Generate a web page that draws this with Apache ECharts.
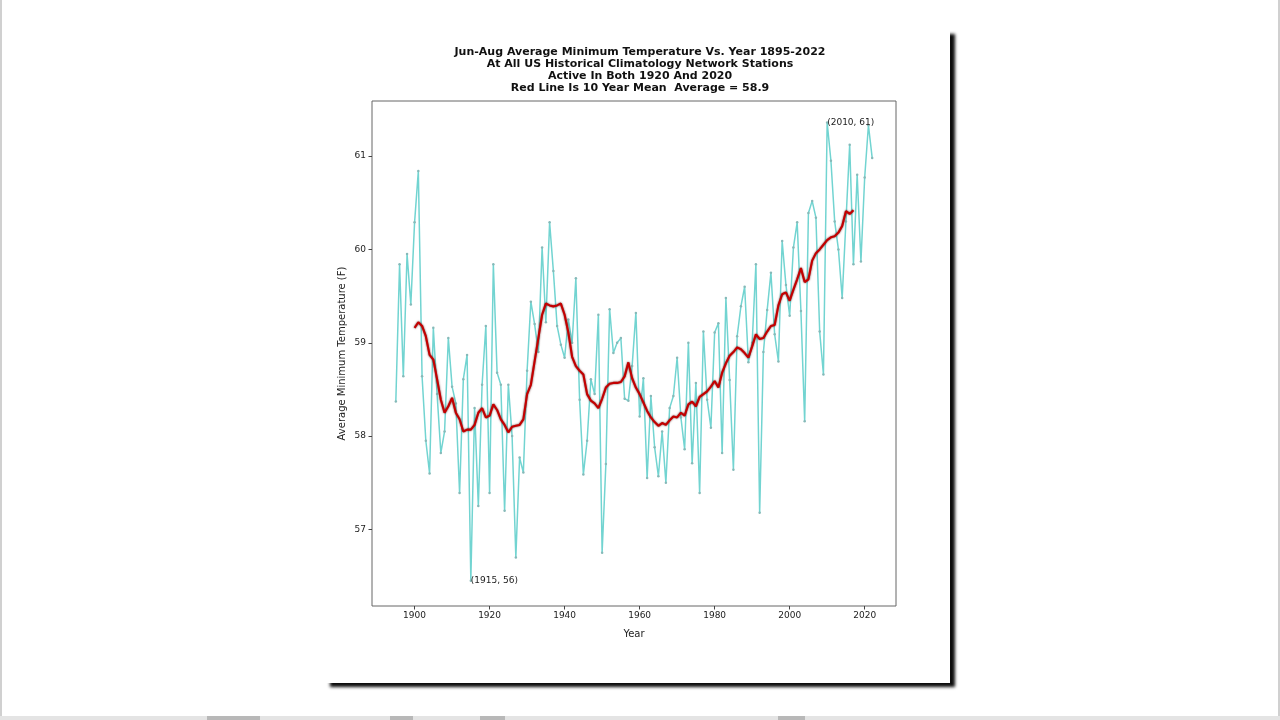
<!DOCTYPE html>
<html>
<head>
<meta charset="utf-8">
<script src="https://cdn.jsdelivr.net/npm/echarts@6/dist/echarts.min.js"></script>
<style>
  html, body { margin: 0; padding: 0; background: #fff; }
  #page { position: relative; width: 1280px; height: 720px; overflow: hidden; background: #fff; }
  #frameL { position: absolute; left: 0; top: 0; width: 2px; height: 720px; background: #d0d0d0; }
  #frameR { position: absolute; right: 0; top: 0; width: 2px; height: 720px; background: #d0d0d0; }
  #frameB { position: absolute; left: 0; top: 716px; width: 1280px; height: 4px; background: #e4e4e4; }
  .thumb { position: absolute; top: 716px; height: 4px; background: #b8b8b8; }
  #card { position: absolute; left: 325px; top: 30px; width: 625px; height: 653px; background: #fff;
          box-shadow: 5px 4px 3px rgba(0,0,0,0.95); }
  #chart { position: absolute; left: 0; top: 0; width: 1280px; height: 720px; }
</style>
</head>
<body>
<div id="page">
  <div id="frameL"></div><div id="frameR"></div><div id="frameB"></div>
  <div class="thumb" style="left:207px;width:53px"></div>
  <div class="thumb" style="left:390px;width:23px"></div>
  <div class="thumb" style="left:480px;width:25px"></div>
  <div class="thumb" style="left:778px;width:27px"></div>
  <div id="card"></div>
  <div id="chart"></div>
</div>
<script>
// ---- data ----
const years = [1895,1896,1897,1898,1899,1900,1901,1902,1903,1904,1905,1906,1907,1908,1909,1910,1911,1912,1913,1914,
  1915,1916,1917,1918,1919,1920,1921,1922,1923,1924,1925,1926,1927,1928,1929,1930,1931,1932,1933,1934,
  1935,1936,1937,1938,1939,1940,1941,1942,1943,1944,1945,1946,1947,1948,1949,1950,1951,1952,1953,1954,
  1955,1956,1957,1958,1959,1960,1961,1962,1963,1964,1965,1966,1967,1968,1969,1970,1971,1972,1973,1974,
  1975,1976,1977,1978,1979,1980,1981,1982,1983,1984,1985,1986,1987,1988,1989,1990,1991,1992,1993,1994,
  1995,1996,1997,1998,1999,2000,2001,2002,2003,2004,2005,2006,2007,2008,2009,2010,2011,2012,2013,2014,
  2015,2016,2017,2018,2019,2020,2021,2022];
const tempMin = [58.37,59.84,58.64,59.95,59.41,60.29,60.84,58.64,57.95,57.60,59.16,58.45,57.82,58.05,59.05,58.53,58.35,57.39,58.61,58.87,
  56.45,58.30,57.25,58.55,59.18,57.39,59.84,58.68,58.55,57.20,58.55,58.00,56.70,57.77,57.61,58.70,59.44,59.20,58.90,60.02,
  59.22,60.29,59.77,59.18,58.98,58.84,59.25,59.00,59.69,58.39,57.59,57.95,58.61,58.45,59.30,56.75,57.70,59.36,58.89,59.00,
  59.05,58.40,58.38,58.75,59.32,58.21,58.62,57.55,58.43,57.88,57.57,58.05,57.50,58.30,58.43,58.84,58.20,57.86,59.00,57.71,
  58.57,57.39,59.12,58.39,58.09,59.11,59.21,57.82,59.48,58.60,57.64,59.07,59.39,59.60,58.79,59.00,59.84,57.18,58.90,59.35,
  59.75,59.09,58.80,60.09,59.62,59.29,60.02,60.29,59.34,58.16,60.39,60.52,60.34,59.12,58.66,61.36,60.95,60.30,60.00,59.48,
  60.30,61.12,59.84,60.80,59.87,60.77,61.33,60.98];

const meanYears = [1900,1901,1902,1903,1904,1905,1906,1907,1908,1909,1910,1911,1912,1913,1914,1915,1916,1917,1918,1919,
  1920,1921,1922,1923,1924,1925,1926,1927,1928,1929,1930,1931,1932,1933,1934,1935,1936,1937,1938,1939,
  1940,1941,1942,1943,1944,1945,1946,1947,1948,1949,1950,1951,1952,1953,1954,1955,1956,1957,1958,1959,
  1960,1961,1962,1963,1964,1965,1966,1967,1968,1969,1970,1971,1972,1973,1974,1975,1976,1977,1978,1979,
  1980,1981,1982,1983,1984,1985,1986,1987,1988,1989,1990,1991,1992,1993,1994,1995,1996,1997,1998,1999,
  2000,2001,2002,2003,2004,2005,2006,2007,2008,2009,2010,2011,2012,2013,2014,2015,2016,2017];
const tenYearMean = [59.16,59.22,59.18,59.07,58.87,58.82,58.61,58.39,58.25,58.32,58.41,58.25,58.18,58.05,58.07,58.07,58.12,58.25,58.30,58.20,
  58.22,58.34,58.28,58.18,58.12,58.04,58.10,58.11,58.12,58.18,58.45,58.55,58.80,59.05,59.30,59.42,59.40,59.39,59.40,59.42,
  59.30,59.11,58.85,58.75,58.70,58.66,58.45,58.38,58.35,58.30,58.40,58.52,58.56,58.57,58.57,58.58,58.64,58.79,58.62,58.52,
  58.45,58.36,58.27,58.20,58.15,58.11,58.14,58.12,58.17,58.21,58.20,58.25,58.22,58.34,58.37,58.32,58.42,58.45,58.48,58.53,
  58.59,58.52,58.68,58.78,58.86,58.90,58.95,58.93,58.89,58.84,58.96,59.09,59.04,59.05,59.12,59.18,59.19,59.40,59.52,59.54,
  59.45,59.57,59.68,59.80,59.65,59.68,59.88,59.96,60.00,60.05,60.10,60.13,60.14,60.18,60.25,60.41,60.38,60.42];

const xTicks = [1900, 1920, 1940, 1960, 1980, 2000, 2020];
const yTicks = [57, 58, 59, 60, 61];
const annotations = [
  { year: 1915, value: 56.45, text: '(1915, 56)' },
  { year: 2010, value: 61.36, text: '(2010, 61)' }
];
const titleLines = [
  'Jun-Aug Average Minimum Temperature Vs. Year 1895-2022',
  'At All US Historical Climatology Network Stations',
  'Active In Both 1920 And 2020',
  'Red Line Is 10 Year Mean  Average = 58.9'
];

// ---- chart ----
const FONT = 'DejaVu Sans';
const chart = echarts.init(document.getElementById('chart'), null, { renderer: 'canvas' });
const option = {
  animation: false,
  backgroundColor: 'transparent',
  title: {
    text: titleLines.join('\n'),
    left: 'center',
    top: 41,
    textStyle: { fontFamily: FONT, fontSize: 11, fontWeight: 'bold', color: '#111', lineHeight: 12 }
  },
  grid: {
    left: 372, top: 101, width: 524, height: 505,
    show: true, borderColor: '#666', borderWidth: 1, backgroundColor: '#fff'
  },
  xAxis: {
    type: 'value', min: 1888.65, max: 2028.35,
    name: 'Year', nameLocation: 'middle', nameGap: 23,
    nameTextStyle: { fontFamily: FONT, fontSize: 10, color: '#222' },
    axisLine: { show: false },
    splitLine: { show: false },
    axisTick: { show: true, length: 3.5, customValues: xTicks, lineStyle: { color: '#444' } },
    axisLabel: { customValues: xTicks, formatter: v => String(v), fontFamily: FONT, fontSize: 9, color: '#222', margin: 5 }
  },
  yAxis: {
    type: 'value', min: 56.18, max: 61.59,
    name: 'Average Minimum Temperature (F)', nameLocation: 'middle', nameGap: 25, nameRotate: 90,
    nameTextStyle: { fontFamily: FONT, fontSize: 10, color: '#222' },
    axisLine: { show: false },
    splitLine: { show: false },
    axisTick: { show: true, length: 3.5, customValues: yTicks, lineStyle: { color: '#444' } },
    axisLabel: { customValues: yTicks, formatter: v => String(v), fontFamily: FONT, fontSize: 9, color: '#222', margin: 6 }
  },
  series: [
    {
      name: 'Average', type: 'line',
      data: years.map((y, i) => [y, tempMin[i]]),
      lineStyle: { color: '#72d4d1', width: 1.5 },
      symbol: 'circle', symbolSize: 2.5, showSymbol: true,
      itemStyle: { color: '#86b9b8' },
      z: 2,
      markPoint: {
        symbol: 'circle', symbolSize: 0,
        label: {
          show: true, position: 'right', distance: 0,
          fontFamily: FONT, fontSize: 9, color: '#222',
          formatter: p => p.name
        },
        data: annotations.map(a => ({ name: a.text, coord: [a.year, a.value] }))
      }
    },
    {
      name: '10 Year Mean', type: 'line',
      data: meanYears.map((y, i) => [y, tenYearMean[i]]),
      lineStyle: { color: '#c40000', width: 2.1, shadowColor: 'rgba(70,0,0,0.8)', shadowBlur: 2 },
      symbol: 'none',
      z: 3
    }
  ]
};
chart.setOption(option);
</script>
</body>
</html>
